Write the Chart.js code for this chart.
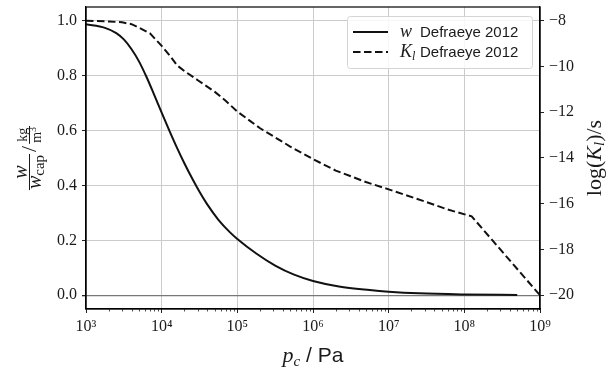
<!DOCTYPE html>
<html>
<head>
<meta charset="utf-8">
<script src="https://cdn.jsdelivr.net/npm/chart.js@4.4.0/dist/chart.umd.min.js"></script>
<style>
  html, body { margin: 0; padding: 0; background: #fff; }
  #wrap { width: 611px; height: 369px; position: relative; }
</style>
</head>
<body>
<div id="wrap"><canvas id="grafico"></canvas></div>
<script>
// curva de retenção (w / w_cap) contra pressão capilar
const pcW = [1e3, 1778, 2512, 3162, 3981, 5012, 6310, 7943, 1e4, 12589, 15849, 19953, 25119, 31623, 39811, 56234, 79433, 1e5, 177828, 316228, 562341, 1e6, 2.2e6, 5.6e6, 1e7, 2.5e7, 1e8, 5e8];
const wRel = [0.987, 0.974, 0.955, 0.932, 0.897, 0.852, 0.795, 0.731, 0.665, 0.601, 0.539, 0.481, 0.427, 0.377, 0.332, 0.275, 0.230, 0.205, 0.152, 0.108, 0.075, 0.052, 0.032, 0.019, 0.013, 0.007, 0.003, 0.001];

// permeabilidade líquida log(K_l)
const pcK = [1e3, 2e3, 3e3, 4e3, 5e3, 7e3, 1e4, 1.3e4, 1.6e4, 2e4, 3e4, 5e4, 7e4, 1e5, 1.5e5, 2e5, 5e5, 1e6, 2e6, 5e6, 1e7, 3e7, 6e7, 1.25e8, 1e9];
const logK = [-8.0, -8.03, -8.07, -8.15, -8.3, -8.55, -9.1, -9.55, -9.95, -10.2, -10.6, -11.1, -11.5, -11.97, -12.4, -12.7, -13.5, -14.05, -14.55, -15.05, -15.37, -15.9, -16.25, -16.55, -20.0];

// eixos
const xTicks = [1e3, 1e4, 1e5, 1e6, 1e7, 1e8, 1e9];
const xTickLabels = ['10\u00b3', '10\u2074', '10\u2075', '10\u2076', '10\u2077', '10\u2078', '10\u2079'];
const wTicks = [0, 0.2, 0.4, 0.6, 0.8, 1.0];
const kTicks = [-20, -18, -16, -14, -12, -10, -8];

const SERIF = '"Liberation Serif", "DejaVu Serif", serif';
const SANS = '"Liberation Sans", Arial, sans-serif';
const TXT = '#1a1a1a';
const GRADE = '#cbcbcb';
const TRACO = [7.5, 3.5];

function larguraRuns(ctx, runs) {
  let w = 0;
  runs.forEach(r => { ctx.font = r.font; w += ctx.measureText(r.t).width; });
  return w;
}

function desenharRuns(ctx, runs, x, y) {
  let cx = x;
  runs.forEach(r => {
    ctx.font = r.font;
    ctx.fillText(r.t, cx, y + (r.dy || 0));
    cx += ctx.measureText(r.t).width;
  });
}

// fração empilhada (num sobre den), começando em u, barra em v=0
function desenharFracao(ctx, num, den, u, vNum, vDen) {
  const wn = larguraRuns(ctx, num);
  const wd = larguraRuns(ctx, den);
  const w = Math.max(wn, wd) + 2;
  desenharRuns(ctx, num, u + (w - wn) / 2, vNum);
  desenharRuns(ctx, den, u + (w - wd) / 2, vDen);
  ctx.fillRect(u, -0.5, w, 1);
  return w;
}

const extras = {
  id: 'extras',
  afterDraw(chart) {
    const ctx = chart.ctx;
    const a = chart.chartArea;
    const sx = chart.scales.x;
    ctx.save();

    // moldura
    ctx.strokeStyle = '#000';
    ctx.lineWidth = 1.2;
    ctx.strokeRect(a.left, a.top, a.right - a.left, a.bottom - a.top);

    // ticks menores do eixo log
    ctx.lineWidth = 0.8;
    ctx.strokeStyle = '#222';
    sx.ticks.forEach(t => {
      if (t.major) return;
      const px = Math.round(sx.getPixelForValue(t.value)) + 0.5;
      ctx.beginPath();
      ctx.moveTo(px, a.bottom);
      ctx.lineTo(px, a.bottom + 2.5);
      ctx.stroke();
    });

    // legenda
    const lw = 185, lh = 52;
    const lx = a.right - 8 - lw, ly = a.top + 9;
    ctx.beginPath();
    ctx.roundRect(lx + 0.5, ly + 0.5, lw, lh, 3);
    ctx.fillStyle = 'rgba(255,255,255,0.85)';
    ctx.fill();
    ctx.strokeStyle = '#d4d4d4';
    ctx.lineWidth = 1;
    ctx.stroke();

    const linhas = [
      { y: ly + 16, dash: [], runs: [{ t: 'w', font: 'italic 18px ' + SERIF }] },
      { y: ly + 36, dash: TRACO, runs: [{ t: 'K', font: 'italic 18px ' + SERIF }, { t: 'l', font: 'italic 12px ' + SERIF, dy: 3 }] }
    ];
    linhas.forEach(l => {
      ctx.strokeStyle = '#111';
      ctx.lineWidth = 2;
      ctx.setLineDash(l.dash);
      ctx.beginPath();
      ctx.moveTo(lx + 6, l.y);
      ctx.lineTo(lx + 41, l.y);
      ctx.stroke();
      ctx.setLineDash([]);
      ctx.fillStyle = TXT;
      ctx.textBaseline = 'alphabetic';
      ctx.textAlign = 'left';
      desenharRuns(ctx, l.runs, lx + 53, l.y + 5);
      ctx.font = '15px ' + SANS;
      ctx.fillText('Defraeye 2012', lx + 73, l.y + 5);
    });

    // título do eixo x
    ctx.fillStyle = TXT;
    const tx = [
      { t: 'p', font: 'italic 22px ' + SERIF },
      { t: 'c', font: 'italic 15px ' + SERIF, dy: 4 },
      { t: ' / Pa', font: '21px ' + SANS }
    ];
    desenharRuns(ctx, tx, (a.left + a.right) / 2 - larguraRuns(ctx, tx) / 2, 362);

    // título do eixo y direito
    ctx.save();
    ctx.translate(601, (a.top + a.bottom) / 2);
    ctx.rotate(-Math.PI / 2);
    const ty2 = [
      { t: 'log(', font: '22px ' + SERIF },
      { t: 'K', font: 'italic 22px ' + SERIF },
      { t: 'l', font: 'italic 15px ' + SERIF, dy: 3 },
      { t: ')/s', font: '22px ' + SERIF }
    ];
    desenharRuns(ctx, ty2, -larguraRuns(ctx, ty2) / 2, 0);
    ctx.restore();

    // título do eixo y esquerdo: (w / w_cap) / (kg / m³)
    ctx.save();
    ctx.translate(29.5, (a.top + a.bottom) / 2);
    ctx.rotate(-Math.PI / 2);
    const num1 = [{ t: 'w', font: 'italic 20px ' + SERIF }];
    const den1 = [{ t: 'w', font: 'italic 20px ' + SERIF }, { t: 'cap', font: '15px ' + SERIF, dy: 3 }];
    const barra = [{ t: '/', font: '22px ' + SERIF }];
    const num2 = [{ t: 'kg', font: '14px ' + SERIF }];
    const den2 = [{ t: 'm', font: '14px ' + SERIF }, { t: '3', font: '10px ' + SERIF, dy: -5 }];
    const w1 = Math.max(larguraRuns(ctx, num1), larguraRuns(ctx, den1)) + 2;
    const w2 = Math.max(larguraRuns(ctx, num2), larguraRuns(ctx, den2)) + 2;
    const wb = larguraRuns(ctx, barra);
    const total = w1 + 2 + wb + 2 + w2;
    let u = -total / 2;
    u += desenharFracao(ctx, num1, den1, u, -3, 11) + 2;
    desenharRuns(ctx, barra, u, 6);
    u += wb + 2;
    desenharFracao(ctx, num2, den2, u, -3, 11);
    ctx.restore();

    ctx.restore();
  }
};

const ticksX = [];
xTicks.forEach((d, i) => {
  ticksX.push({ value: d, major: true });
  if (i < xTicks.length - 1) {
    for (let k = 2; k <= 9; k++) ticksX.push({ value: k * d, major: false });
  }
});

const grafico = new Chart(document.getElementById('grafico'), {
  type: 'line',
  data: {
    datasets: [
      {
        label: 'w Defraeye 2012',
        data: pcW.map((x, i) => ({ x, y: wRel[i] })),
        yAxisID: 'y',
        borderColor: '#111',
        borderWidth: 2,
        pointRadius: 0,
        cubicInterpolationMode: 'monotone',
        fill: false
      },
      {
        label: 'K_l Defraeye 2012',
        data: pcK.map((x, i) => ({ x, y: logK[i] })),
        yAxisID: 'y2',
        borderColor: '#111',
        borderWidth: 2,
        borderDash: TRACO,
        pointRadius: 0,
        tension: 0,
        fill: false
      }
    ]
  },
  options: {
    responsive: true,
    maintainAspectRatio: false,
    animation: false,
    layout: { padding: { top: 7, left: 0, right: 0, bottom: 0 } },
    plugins: { legend: { display: false }, tooltip: { enabled: false } },
    scales: {
      x: {
        type: 'logarithmic',
        min: 1e3,
        max: 1e9,
        afterBuildTicks: s => { s.ticks = ticksX.map(t => ({ ...t })); },
        afterFit: s => { s.height = 60; s.paddingLeft = 0; s.paddingRight = 0; },
        border: { display: true, color: '#000', width: 1.2 },
        grid: {
          color: c => (c.tick && c.tick.major ? GRADE : 'rgba(0,0,0,0)'),
          tickColor: c => (c.tick && c.tick.major ? '#222' : 'rgba(0,0,0,0)'),
          tickLength: 4
        },
        ticks: {
          autoSkip: false,
          maxRotation: 0,
          padding: 4,
          color: TXT,
          font: { family: SERIF, size: 16 },
          callback: v => { const i = xTicks.indexOf(v); return i >= 0 ? xTickLabels[i] : ''; }
        }
      },
      y: {
        position: 'left',
        min: -0.05,
        max: 1.05,
        afterBuildTicks: s => { s.ticks = wTicks.map(v => ({ value: v })); },
        afterFit: s => { s.width = 86; s.paddingTop = 0; s.paddingBottom = 0; },
        border: { display: true, color: '#000', width: 1.2 },
        grid: {
          color: c => (c.tick && c.tick.value === 0 ? '#777' : GRADE),
          lineWidth: c => (c.tick && c.tick.value === 0 ? 1.3 : 1),
          tickColor: '#222',
          tickLength: 4
        },
        ticks: {
          padding: 5,
          color: TXT,
          font: { family: SERIF, size: 16 },
          callback: v => v.toFixed(1)
        }
      },
      y2: {
        position: 'right',
        min: -20.6,
        max: -7.4,
        afterBuildTicks: s => { s.ticks = kTicks.map(v => ({ value: v })); },
        afterFit: s => { s.width = 71; s.paddingTop = 0; s.paddingBottom = 0; },
        border: { display: true, color: '#000', width: 1.2 },
        grid: { drawOnChartArea: false, tickColor: '#222', tickLength: 4 },
        ticks: {
          padding: 5,
          color: TXT,
          font: { family: SERIF, size: 16 },
          callback: v => (v < 0 ? '\u2212' : '') + Math.abs(v)
        }
      }
    }
  },
  plugins: [extras]
});
</script>
</body>
</html>
